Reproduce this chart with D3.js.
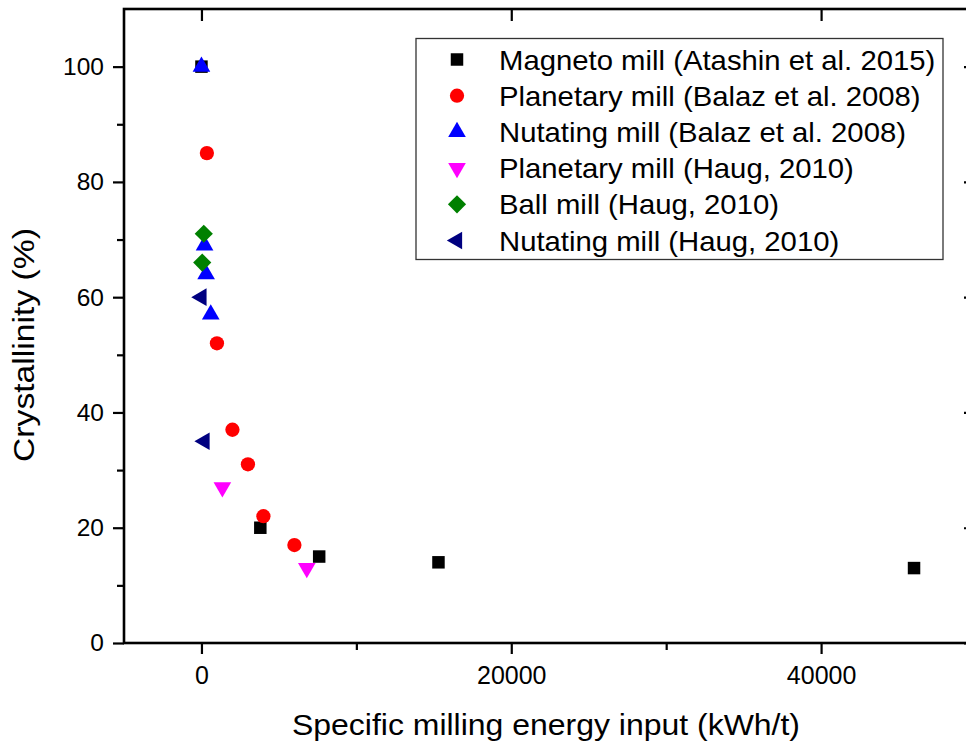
<!DOCTYPE html>
<html>
<head>
<meta charset="utf-8">
<script src="https://cdn.jsdelivr.net/npm/d3@7"></script>
<style>
  body { margin: 0; background: #fff; }
  svg { display: block; font-family: "Liberation Sans", Arial, sans-serif; }
</style>
</head>
<body>
<svg id="chart" width="966" height="744"></svg>
<script>
// series data: [energy kWh/t, crystallinity %]
var magneto      = [[0, 100], [3800, 20], [7600, 15], [15300, 14], [46000, 13]];
var planetaryB   = [[350, 85], [1000, 52], [2000, 37], [3000, 31], [4000, 22], [6000, 17]];
var nutatingB    = [[0, 100], [200, 69], [300, 64], [600, 57]];
var planetaryH   = [[1350, 27], [6800, 13]];
var ballH        = [[150, 71], [50, 66]];
var nutatingH    = [[0, 60], [200, 35]];

var seriesNames = [
  "Magneto mill (Atashin et al. 2015)",
  "Planetary mill (Balaz et al. 2008)",
  "Nutating mill (Balaz et al. 2008)",
  "Planetary mill (Haug, 2010)",
  "Ball mill (Haug, 2010)",
  "Nutating mill (Haug, 2010)"
];
var seriesColors = ["#000000", "#ff0000", "#0000ff", "#ff00ff", "#008000", "#000080"];
var xTicks = [0, 20000, 40000];
var xMinor = [10000, 30000];
var yTicks = [0, 20, 40, 60, 80, 100];
var yMinor = [10, 30, 50, 70, 90];

var series = [magneto, planetaryB, nutatingB, planetaryH, ballH, nutatingH];

// marker shape per series: symbol, rotation
var shapes = [
  {sym: d3.symbolSquare, size: 156, rot: 0},
  {sym: d3.symbolCircle, size: 160, rot: 0},
  {sym: d3.symbolTriangle, size: 135, rot: 0},
  {sym: d3.symbolTriangle, size: 135, rot: 180},
  {sym: d3.symbolSquare, size: 165, rot: 45},
  {sym: d3.symbolTriangle, size: 135, rot: -90}
];

var svg = d3.select("#chart");
var L = 124, R = 976, T = 9, B = 643;

var x = d3.scaleLinear().domain([-5000, 50000]).range([L, R]);
var y = d3.scaleLinear().domain([0, 110]).range([B, T]);

// bottom axis
svg.append("g")
  .attr("transform", "translate(0," + B + ")")
  .call(d3.axisBottom(x).tickValues(xTicks).tickSize(11).tickPadding(12).tickFormat(d3.format("d")))
  .call(function(g){
    g.select(".domain").remove();
    g.selectAll("text").attr("font-size", 25).attr("fill", "#000").attr("font-family", "Liberation Sans, Arial");
  });
svg.append("g")
  .attr("transform", "translate(0," + B + ")")
  .call(d3.axisBottom(x).tickValues(xMinor).tickSize(7).tickFormat(""))
  .call(function(g){ g.select(".domain").remove(); });

// top axis (ticks inward)
svg.append("g")
  .attr("transform", "translate(0," + T + ")")
  .call(d3.axisBottom(x).tickValues(xTicks).tickSize(12).tickFormat(""))
  .call(function(g){ g.select(".domain").remove(); });

// left axis
svg.append("g")
  .attr("transform", "translate(" + L + ",0)")
  .call(d3.axisLeft(y).tickValues(yTicks).tickSize(11).tickPadding(9))
  .call(function(g){
    g.select(".domain").remove();
    g.selectAll("text").attr("font-size", 24.5).attr("fill", "#000").attr("font-family", "Liberation Sans, Arial");
  });
svg.append("g")
  .attr("transform", "translate(" + L + ",0)")
  .call(d3.axisLeft(y).tickValues(yMinor).tickSize(7).tickFormat(""))
  .call(function(g){ g.select(".domain").remove(); });

// right axis (ticks inward)
svg.append("g")
  .attr("transform", "translate(" + R + ",0)")
  .call(d3.axisRight(y).tickValues(yTicks).tickSize(-12).tickFormat(""))
  .call(function(g){ g.select(".domain").remove(); });

svg.selectAll(".tick line").attr("stroke", "#000").attr("stroke-width", 2.2);

// frame
svg.append("rect")
  .attr("x", L).attr("y", T).attr("width", R - L).attr("height", B - T)
  .attr("fill", "none").attr("stroke", "#000").attr("stroke-width", 2.6);

// points
var plot = svg.append("g");
series.forEach(function(s, i){
  var sh = shapes[i];
  plot.selectAll(".s" + i)
    .data(s)
    .enter().append("path")
    .attr("class", "s" + i)
    .attr("d", d3.symbol().type(sh.sym).size(sh.size))
    .attr("transform", function(d){
      return "translate(" + x(d[0]) + "," + y(d[1]) + ") rotate(" + sh.rot + ")";
    })
    .attr("fill", seriesColors[i]);
});

// legend
var legend = svg.append("g");
legend.append("rect")
  .attr("x", 416).attr("y", 38.5).attr("width", 527).attr("height", 221)
  .attr("fill", "#fff").attr("stroke", "#333").attr("stroke-width", 1.3);
seriesNames.forEach(function(name, i){
  var cy = 59.5 + i * 36.2;
  var sh = shapes[i];
  legend.append("path")
    .attr("d", d3.symbol().type(sh.sym).size(sh.size))
    .attr("transform", "translate(457," + cy + ") rotate(" + sh.rot + ")")
    .attr("fill", seriesColors[i]);
  var t = legend.append("text")
    .attr("x", 499).attr("y", cy + 10)
    .attr("font-size", 28)
    .attr("fill", "#000")
    .text(name);
  // the original lettering runs a little wider than Arial
  var w = t.node().getComputedTextLength();
  t.attr("textLength", w * 1.046).attr("lengthAdjust", "spacingAndGlyphs");
});

// axis titles
svg.append("text")
  .attr("x", 292).attr("y", 735)
  .attr("font-size", 29)
  .attr("textLength", 508).attr("lengthAdjust", "spacingAndGlyphs")
  .text("Specific milling energy input (kWh/t)");

svg.append("text")
  .attr("transform", "translate(34,462) rotate(-90)")
  .attr("font-size", 29)
  .attr("textLength", 234).attr("lengthAdjust", "spacingAndGlyphs")
  .text("Crystallinity (%)");
</script>
</body>
</html>
